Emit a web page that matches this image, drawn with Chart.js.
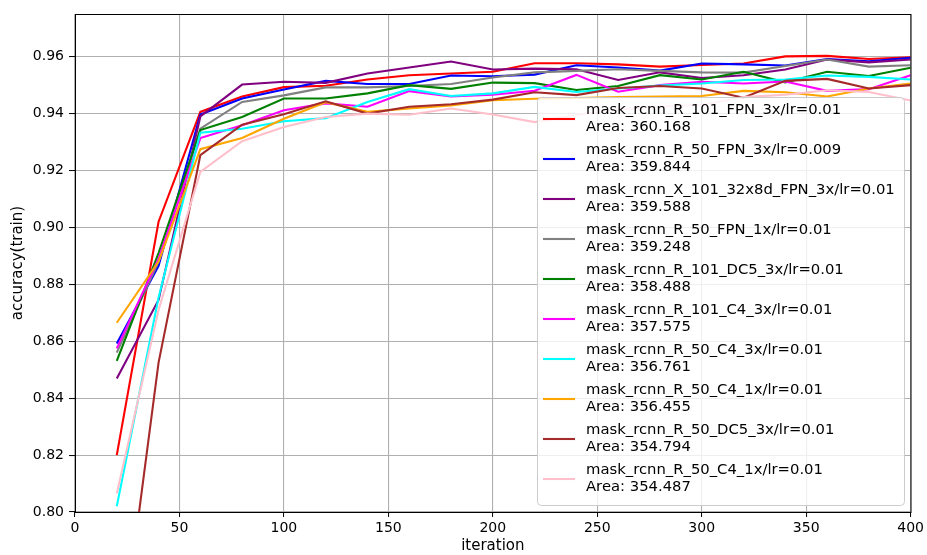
<!DOCTYPE html>
<html>
<head>
<meta charset="utf-8">
<script src="https://cdn.jsdelivr.net/npm/chart.js@4.4.1/dist/chart.umd.min.js"></script>
<style>
  html, body { margin: 0; padding: 0; background: #ffffff; }
  #wrap { width: 927px; height: 555px; }
</style>
</head>
<body>
<div id="wrap"><canvas id="c" width="927" height="555"></canvas></div>
<script>
// ---- data ----
const iterations = [20, 40, 60, 80, 100, 120, 140, 160, 180, 200, 220, 240, 260, 280, 300, 320, 340, 360, 380, 400];

const seriesNames = [
  ["mask_rcnn_R_101_FPN_3x/lr=0.01", "Area: 360.168"],
  ["mask_rcnn_R_50_FPN_3x/lr=0.009", "Area: 359.844"],
  ["mask_rcnn_X_101_32x8d_FPN_3x/lr=0.01", "Area: 359.588"],
  ["mask_rcnn_R_50_FPN_1x/lr=0.01", "Area: 359.248"],
  ["mask_rcnn_R_101_DC5_3x/lr=0.01", "Area: 358.488"],
  ["mask_rcnn_R_101_C4_3x/lr=0.01", "Area: 357.575"],
  ["mask_rcnn_R_50_C4_3x/lr=0.01", "Area: 356.761"],
  ["mask_rcnn_R_50_C4_1x/lr=0.01", "Area: 356.455"],
  ["mask_rcnn_R_50_DC5_3x/lr=0.01", "Area: 354.794"],
  ["mask_rcnn_R_50_C4_1x/lr=0.01", "Area: 354.487"]
];

const r101Fpn3x = [0.820, 0.902, 0.9406, 0.946, 0.9493, 0.9498, 0.952, 0.9535, 0.9541, 0.9547, 0.9577, 0.9577, 0.9573, 0.9565, 0.9571, 0.9576, 0.9601, 0.9603, 0.9592, 0.9598];
const r50Fpn3x = [0.8592, 0.8865, 0.9397, 0.9453, 0.9485, 0.9515, 0.9504, 0.9504, 0.9534, 0.9531, 0.9537, 0.957, 0.9562, 0.9551, 0.9576, 0.9573, 0.9569, 0.9592, 0.9584, 0.9596];
const x101Fpn3x = [0.8469, 0.8745, 0.939, 0.9502, 0.9512, 0.9508, 0.9541, 0.9562, 0.9583, 0.9555, 0.9558, 0.9556, 0.9518, 0.9545, 0.9525, 0.9535, 0.9555, 0.959, 0.958, 0.959];
const r50Fpn1x = [0.856, 0.888, 0.9347, 0.9441, 0.9464, 0.9492, 0.9492, 0.9497, 0.9504, 0.9527, 0.9545, 0.955, 0.9556, 0.955, 0.9545, 0.9544, 0.9567, 0.959, 0.9565, 0.957];
const r101Dc53x = [0.8531, 0.891, 0.9342, 0.9388, 0.9453, 0.9453, 0.9471, 0.950, 0.9487, 0.9509, 0.9507, 0.9483, 0.9497, 0.9535, 0.952, 0.9547, 0.951, 0.9547, 0.9532, 0.9561];
const r101C43x = [0.8575, 0.889, 0.9314, 0.9359, 0.9412, 0.9436, 0.9424, 0.9479, 0.946, 0.9466, 0.948, 0.9536, 0.9477, 0.950, 0.9512, 0.9506, 0.9513, 0.948, 0.9486, 0.9535];
const r50C43x = [0.802, 0.8754, 0.9333, 0.9347, 0.9373, 0.9384, 0.9441, 0.9486, 0.9462, 0.9471, 0.9494, 0.9476, 0.9488, 0.9499, 0.9506, 0.9518, 0.952, 0.9534, 0.9529, 0.952];
const r50C41x = [0.8665, 0.888, 0.9275, 0.9314, 0.9382, 0.944, 0.9406, 0.9418, 0.9429, 0.9447, 0.9452, 0.9455, 0.9458, 0.946, 0.9462, 0.948, 0.9475, 0.946, 0.9488, 0.9506];
const r50Dc53x = [0.74, 0.8525, 0.9254, 0.9361, 0.9398, 0.9443, 0.940, 0.9424, 0.9433, 0.9449, 0.9475, 0.9465, 0.949, 0.9497, 0.9488, 0.9456, 0.9515, 0.9522, 0.9488, 0.950];
const r50C41xB = [0.8065, 0.871, 0.9195, 0.9303, 0.9353, 0.9388, 0.940, 0.9396, 0.9418, 0.9397, 0.937, 0.9395, 0.9415, 0.9425, 0.943, 0.9458, 0.9466, 0.9482, 0.9476, 0.9446];

const seriesValues = [r101Fpn3x, r50Fpn3x, x101Fpn3x, r50Fpn1x, r101Dc53x, r101C43x, r50C43x, r50C41x, r50Dc53x, r50C41xB];
const seriesColors = ["#ff0000", "#0000ff", "#800080", "#808080", "#008000", "#ff00ff", "#00ffff", "#ffa500", "#a52a2a", "#ffc0cb"];

const xTicks = [0, 50, 100, 150, 200, 250, 300, 350, 400];
const yTicks = [0.80, 0.82, 0.84, 0.86, 0.88, 0.90, 0.92, 0.94, 0.96];
// ---------------------------------------

const FONT = "'DejaVu Sans', sans-serif";

const datasets = seriesValues.map((vals, i) => ({
  label: seriesNames[i],
  data: iterations.map((it, k) => ({ x: it, y: vals[k] })),
  borderColor: seriesColors[i],
  backgroundColor: seriesColors[i],
  borderWidth: 2.1,
  pointRadius: 0,
  pointHoverRadius: 0,
  tension: 0,
  fill: false,
  clip: 0,
  order: -i
}));

const framePlugin = {
  id: 'frame',
  afterDatasetsDraw(chart) {
    const { ctx, chartArea: a } = chart;
    ctx.save();
    ctx.strokeStyle = '#000000';
    ctx.lineWidth = 1;
    ctx.strokeRect(Math.round(a.left) + 0.5, Math.round(a.top) + 0.5,
                   Math.round(a.right - a.left) - 1 + 0.5, Math.round(a.bottom - a.top));
    ctx.restore();
  }
};

const legendPlugin = {
  id: 'mplLegend',
  afterDraw(chart) {
    const ctx = chart.ctx;
    const box = { x: 537.5, y: 97.5, w: 367, h: 408, r: 4 };
    ctx.save();
    ctx.beginPath();
    ctx.roundRect(box.x, box.y, box.w, box.h, box.r);
    ctx.fillStyle = 'rgba(255,255,255,0.8)';
    ctx.fill();
    ctx.strokeStyle = '#cccccc';
    ctx.lineWidth = 1;
    ctx.stroke();
    ctx.font = "14.8px " + FONT;
    ctx.textBaseline = 'middle';
    ctx.textAlign = 'left';
    chart.data.datasets.forEach((ds, i) => {
      const base = 110 + 40 * i;
      ctx.strokeStyle = ds.borderColor;
      ctx.lineWidth = 2.1;
      ctx.beginPath();
      ctx.moveTo(543, base + 9);
      ctx.lineTo(575, base + 9);
      ctx.stroke();
      ctx.fillStyle = '#000000';
      ctx.fillText(ds.label[0], 586, base);
      ctx.fillText(ds.label[1], 586, base + 17);
    });
    ctx.restore();
  }
};

new Chart(document.getElementById('c'), {
  type: 'line',
  data: { datasets },
  plugins: [framePlugin, legendPlugin],
  options: {
    responsive: false,
    animation: false,
    devicePixelRatio: 1,
    layout: { padding: { top: 14, right: 15, left: 0, bottom: 0 } },
    plugins: { legend: { display: false }, tooltip: { enabled: false } },
    scales: {
      x: {
        type: 'linear',
        min: 0,
        max: 400,
        afterBuildTicks: (s) => { s.ticks = xTicks.map(v => ({ value: v })); },
        afterFit: (s) => { s.height = 43; },
        border: { display: false },
        grid: { color: '#b0b0b0', lineWidth: 1.1, tickColor: '#000000', tickLength: 5, tickWidth: 1 },
        ticks: { color: '#000000', font: { family: FONT, size: 14 }, padding: 3, maxRotation: 0, autoSkip: false,
                 callback: (v) => String(v) },
        title: { display: true, text: 'iteration', color: '#000000', font: { family: FONT, size: 15 }, padding: { top: 0, bottom: 0 } }
      },
      y: {
        type: 'linear',
        min: 0.80,
        max: 0.975,
        afterBuildTicks: (s) => { s.ticks = yTicks.map(v => ({ value: v })); },
        afterFit: (s) => { s.width = 75; },
        border: { display: false },
        grid: { color: '#b0b0b0', lineWidth: 1.1, tickColor: '#000000', tickLength: 6, tickWidth: 1 },
        ticks: { color: '#000000', font: { family: FONT, size: 14 }, padding: 5, autoSkip: false,
                 callback: (v) => Number(v).toFixed(2) },
        title: { display: true, text: 'accuracy(train)', color: '#000000', font: { family: FONT, size: 15 }, padding: { top: 9, bottom: 0 } }
      }
    }
  }
});
</script>
</body>
</html>
